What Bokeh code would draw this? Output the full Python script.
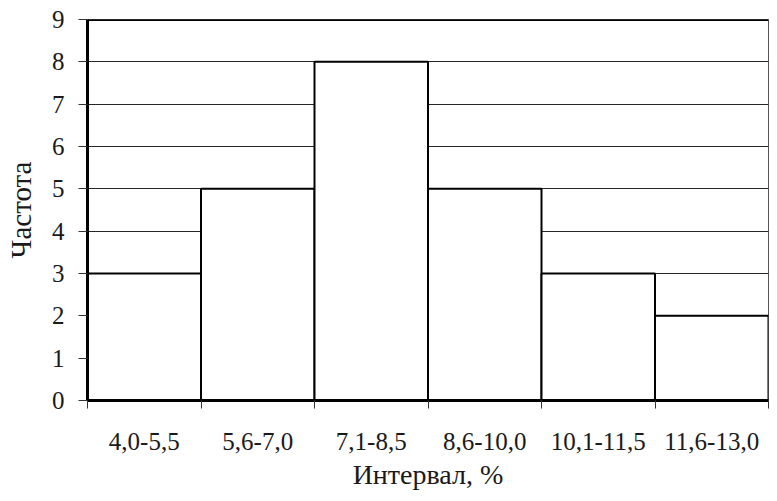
from bokeh.plotting import figure
from bokeh.models import FixedTicker, Range1d, Span, ColumnDataSource
from bokeh.embed import file_html
from bokeh.resources import INLINE

categories = ["4,0-5,5", "5,6-7,0", "7,1-8,5", "8,6-10,0", "10,1-11,5", "11,6-13,0"]
frequencies = [3, 5, 8, 5, 3, 2]
y_ticks = [0, 1, 2, 3, 4, 5, 6, 7, 8, 9]

n = len(categories)
src = ColumnDataSource(dict(
    left=list(range(n)),
    right=[i + 1 for i in range(n)],
    top=frequencies,
    bottom=[0] * n,
))

FONT = "Liberation Serif"
TXT = "#1a1a1a"

p = figure(width=769, height=493, output_backend="svg", toolbar_location=None,
           x_range=Range1d(0, n), y_range=Range1d(0, 9),
           min_border_left=87, min_border_top=19, min_border_right=1, min_border_bottom=93)
p.background_fill_color = "white"
p.border_fill_color = "white"
p.outline_line_color = "#555555"
p.outline_line_width = 1

p.quad(left="left", right="right", top="top", bottom="bottom", source=src,
       fill_color="white", line_color="black", line_width=2)

top_line = Span(location=9, dimension="width", line_color="black", line_width=3)
p.add_layout(top_line)

p.xgrid.visible = False
p.ygrid.ticker = FixedTicker(ticks=y_ticks)
p.ygrid.grid_line_color = "black"
p.ygrid.grid_line_width = 1
p.ygrid.grid_line_alpha = 0.85

xa = p.xaxis[0]
xa.ticker = FixedTicker(ticks=[i + 0.5 for i in range(n)], minor_ticks=list(range(n + 1)))
xa.major_label_overrides = {i + 0.5: c for i, c in enumerate(categories)}
xa.major_tick_out = 0
xa.major_tick_in = 0
xa.minor_tick_out = 8
xa.minor_tick_in = 0
xa.minor_tick_line_color = "#333333"
xa.axis_line_width = 3
xa.axis_line_color = "black"
xa.major_label_standoff = 24
xa.major_label_text_font = FONT
xa.major_label_text_font_size = "25px"
xa.major_label_text_color = TXT
xa.axis_label = "Интервал, %"
xa.axis_label_text_font = FONT
xa.axis_label_text_font_size = "28px"
xa.axis_label_text_font_style = "normal"
xa.axis_label_text_color = TXT
xa.axis_label_standoff = 6

ya = p.yaxis[0]
ya.ticker = FixedTicker(ticks=y_ticks, minor_ticks=[])
ya.major_tick_out = 9
ya.major_tick_in = 0
ya.major_tick_line_color = "#333333"
ya.axis_line_width = 3
ya.axis_line_color = "black"
ya.major_label_standoff = 14
ya.major_label_text_font = FONT
ya.major_label_text_font_size = "25px"
ya.major_label_text_color = TXT
ya.axis_label = "Частота"
ya.axis_label_text_font = FONT
ya.axis_label_text_font_size = "29px"
ya.axis_label_text_font_style = "normal"
ya.axis_label_text_color = TXT
ya.axis_label_standoff = 12

open("out.html", "w").write(file_html(p, INLINE))
